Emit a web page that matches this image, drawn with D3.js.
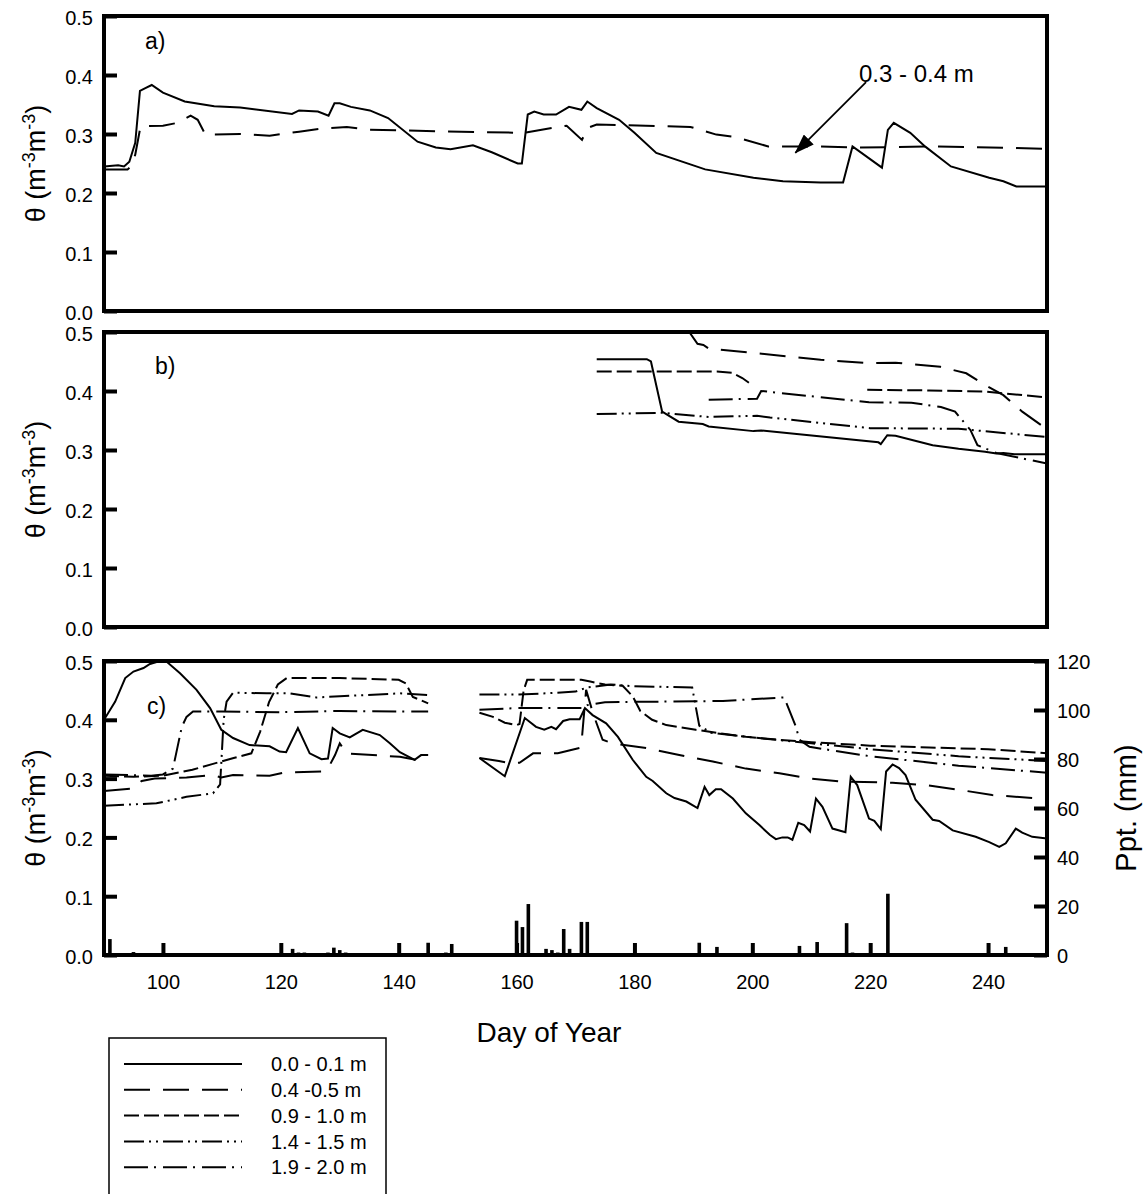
<!DOCTYPE html>
<html>
<head>
<meta charset="utf-8">
<script src="https://cdn.jsdelivr.net/npm/d3@7"></script>
<style>
body { margin: 0; background: #fff; }
text { font-family: Arial, "Liberation Sans", sans-serif; fill: #000; }
</style>
</head>
<body>
<svg id="chart" width="1146" height="1194"></svg>
<script>
// ---- data (day of year, volumetric water content) ----
// panel a
const aTop = [[90,0.245],[92.4,0.247],[93.4,0.245],[94.3,0.253],[95.3,0.285],[96.1,0.373],[97.1,0.378],[98.1,0.383],[100,0.37],[103.7,0.355],[108.7,0.347],[113.1,0.345],[121.9,0.334],[123.1,0.34],[126.3,0.338],[128.1,0.331],[129.1,0.352],[130,0.352],[131.9,0.346],[135.1,0.34],[138.2,0.327],[143.2,0.287],[146.3,0.277],[148.8,0.274],[152.6,0.281],[155.8,0.269],[160.2,0.25],[160.9,0.25],[161.9,0.333],[163,0.338],[164.6,0.333],[166.7,0.333],[168.9,0.346],[171,0.341],[172,0.355],[173.6,0.344],[177.4,0.324],[180,0.302],[183.7,0.268],[192,0.24],[200.2,0.226],[205.2,0.22],[211.6,0.218],[215.4,0.218],[217,0.279],[222,0.243],[223,0.307],[224,0.319],[226.8,0.302],[229.3,0.279],[233.7,0.245],[240.2,0.226],[242.6,0.22],[244.8,0.211],[250,0.211]];
const aMid = [[90,0.24],[94,0.24],[94.6,0.245],[95.3,0.265],[96.2,0.313],[100,0.314],[102.5,0.319],[104.7,0.331],[105.9,0.324],[107.2,0.299],[113.1,0.3],[118.1,0.297],[123.1,0.304],[126.9,0.309],[131.2,0.312],[135.1,0.307],[141.4,0.306],[153.9,0.303],[161.4,0.302],[166.5,0.311],[168.5,0.314],[171.1,0.29],[172,0.31],[173.6,0.316],[189.5,0.312],[193.9,0.299],[197,0.295],[202.7,0.279],[211.6,0.279],[218,0.277],[230.6,0.279],[250,0.275]];

// panel b
const b01 = [[173.6,0.454],[182.1,0.454],[182.8,0.45],[184.7,0.365],[187.5,0.348],[191.6,0.344],[192.6,0.34],[200.2,0.332],[201.5,0.333],[221.4,0.313],[221.8,0.31],[222.9,0.325],[224.3,0.324],[230.6,0.308],[235,0.302],[239.5,0.297],[241.4,0.294],[242.6,0.295],[244.5,0.293],[250,0.293]];
const b45 = [[189.3,0.5],[190.7,0.48],[191.7,0.478],[192.6,0.472],[200.8,0.464],[211.6,0.453],[219.8,0.447],[224.3,0.448],[231.9,0.441],[236.3,0.43],[239.5,0.41],[242.6,0.393],[245.8,0.365],[249.3,0.34]];
const b910 = [[173.6,0.433],[194,0.433],[196.5,0.431],[198.3,0.422],[199.7,0.412],null,[219.5,0.402],[230,0.401],[239.5,0.399],[250,0.389]];
const b1415 = [[173.6,0.361],[184.7,0.363],[192.6,0.356],[200.8,0.358],[203,0.355],[220,0.337],[235,0.336],[250,0.322]];
const b1920 = [[192.6,0.385],[200.8,0.387],[201.5,0.4],[219.8,0.381],[227,0.38],[232,0.373],[234.4,0.365],[237,0.334],[238.2,0.308],[241.4,0.295],[250,0.277]];

// panel c
const c01 = [[90,0.4],[91.9,0.431],[93.6,0.471],[95,0.482],[96.7,0.488],[97.8,0.495],[99.5,0.5],[100.6,0.499],[102.9,0.479],[105.7,0.451],[108,0.42],[109.9,0.383],[111.9,0.369],[114.7,0.357],[118.1,0.355],[119.8,0.346],[120.9,0.345],[122.9,0.386],[124.9,0.343],[126.9,0.333],[128,0.334],[128.8,0.386],[130,0.377],[131.7,0.37],[133.9,0.383],[136.8,0.374],[138.5,0.36],[140.2,0.345],[142.7,0.332],[143.8,0.34],[145,0.34],null,[153.7,0.335],[158,0.304],[161.4,0.403],[163.3,0.388],[164.7,0.383],[165.9,0.388],[166.7,0.384],[167.9,0.398],[169,0.401],[170.7,0.401],[171.6,0.42],[172.9,0.408],[175.2,0.394],[177.2,0.371],[179.7,0.332],[182,0.303],[183.1,0.296],[185.4,0.275],[186.8,0.267],[188.8,0.261],[190.7,0.25],[191.9,0.286],[192.7,0.272],[193.8,0.282],[194.7,0.282],[196.7,0.266],[198.9,0.241],[201.2,0.221],[203,0.204],[204,0.197],[205.1,0.2],[206,0.2],[206.8,0.196],[207.8,0.225],[208.8,0.221],[209.8,0.21],[210.8,0.266],[211.9,0.252],[213.6,0.215],[215.8,0.209],[216.7,0.303],[217.8,0.289],[219.8,0.232],[220.7,0.228],[221.8,0.214],[222.7,0.312],[223.8,0.324],[224.9,0.318],[226,0.306],[227.7,0.264],[230.6,0.23],[231.7,0.228],[234,0.212],[237.9,0.201],[240.2,0.192],[241.9,0.184],[243,0.19],[244.7,0.215],[245.8,0.208],[247.5,0.201],[250,0.198]];
const c45 = [[90,0.279],[94.7,0.283],[96.4,0.296],[98.6,0.3],[104,0.302],[108.5,0.306],[109.9,0.302],[111.9,0.306],[118.1,0.305],[120.4,0.31],[127.2,0.312],[128.3,0.323],[129.2,0.34],[130,0.36],[131.1,0.343],[140.2,0.337],[143,0.332],[145,0.337],null,[153.7,0.335],[157,0.33],[159,0.326],[160.5,0.327],[162.8,0.343],[167,0.343],[170.7,0.352],[171.1,0.37],[171.8,0.451],[173,0.41],[174.6,0.366],[176.3,0.36],[182,0.352],[187.6,0.34],[193.3,0.329],[198.9,0.317],[204.6,0.309],[209.7,0.3],[215.3,0.295],[223.8,0.293],[229.4,0.289],[235.1,0.281],[240.7,0.272],[250,0.265]];
const c910 = [[90,0.305],[95,0.303],[100,0.305],[105,0.315],[108.5,0.325],[112,0.335],[115,0.343],[116.5,0.38],[118,0.43],[119.5,0.46],[121,0.471],[130,0.471],[140,0.468],[141.2,0.462],[142.4,0.439],[145,0.428],null,[153.7,0.412],[156,0.405],[158,0.395],[160,0.391],[160.5,0.393],[161.2,0.45],[161.8,0.468],[171,0.468],[172.5,0.465],[175,0.46],[178,0.458],[179.7,0.44],[181,0.415],[183,0.4],[185.4,0.391],[190.4,0.383],[198.9,0.371],[204.6,0.366],[210,0.362],[220,0.356],[230,0.353],[240,0.35],[250,0.343]];
const c1415 = [[90,0.254],[98.9,0.258],[104,0.269],[108.5,0.275],[109.7,0.29],[110.3,0.4],[110.8,0.431],[111.9,0.446],[117.6,0.445],[121.5,0.445],[126,0.438],[130,0.44],[140.2,0.445],[145,0.442],null,[153.7,0.443],[160,0.443],[165,0.445],[170,0.448],[172,0.455],[176,0.46],[180,0.457],[189.8,0.455],[191,0.39],[193,0.378],[200,0.37],[210,0.36],[220,0.35],[235,0.338],[250,0.33]];
const c1920 = [[90,0.307],[98,0.305],[100,0.307],[101.7,0.317],[103.2,0.388],[104,0.405],[105.1,0.414],[110,0.414],[120,0.413],[130,0.415],[140,0.414],[145,0.414],null,[153.7,0.417],[160,0.42],[165,0.42],[171,0.42],[172,0.425],[175,0.43],[185,0.431],[195,0.432],[205.4,0.438],[207.4,0.388],[208,0.366],[209.7,0.354],[220,0.338],[235,0.322],[250,0.31]];

// precipitation (mm)
const pptDay = [91,95,112,122,123,124,128,129,130,131,145,148,149,150,160,161,162,165,166,167,168,169,171,172,191,194,197,204,207,208,211,216,217,223,224,243];
const pptMm  = [6.5,1.2,0.5,2.5,1,1,1,3,2,1,5,1,4.5,0.5,14,11.4,20.8,2.5,2,1,10.6,2.5,13.5,13.5,5,3.3,0.5,0.5,0.5,3.7,5.3,13,1,25,0.5,3.3];

// ticks and labels
const thetaTicks = [0, 0.1, 0.2, 0.3, 0.4, 0.5];
const dayTicks = [100, 120, 140, 160, 180, 200, 220, 240];
const pptTicks = [0, 20, 40, 60, 80, 100, 120];
const depthNames = ["0.0 - 0.1 m", "0.4 -0.5 m", "0.9 - 1.0 m", "1.4 - 1.5 m", "1.9 - 2.0 m"];

// ---- drawing ----
const svg = d3.select("#chart");
const dashes = [null, "26,13", "15,5", "20,5,2,5,2,5", "24,6,2,7"];
const FONT = "Arial, 'Liberation Sans', sans-serif";

const x = d3.scaleLinear().domain([90, 250]).range([104, 1047]);

const panels = [
  { id: "a", top: 16,  bottom: 311, label: "a)", lx: 145, ly: 49,
    series: [[aTop, 0], [aMid, 1]] },
  { id: "b", top: 332, bottom: 627, label: "b)", lx: 155, ly: 374,
    series: [[b01, 0], [b45, 1], [b910, 2], [b1415, 3], [b1920, 4]] },
  { id: "c", top: 661, bottom: 955, label: "c)", lx: 147, ly: 714,
    series: [[c01, 0], [c45, 1], [c910, 2], [c1415, 3], [c1920, 4]] }
];

const defs = svg.append("defs");
defs.append("marker")
  .attr("id", "arrow")
  .attr("markerUnits", "userSpaceOnUse")
  .attr("markerWidth", 20).attr("markerHeight", 14)
  .attr("refX", 19).attr("refY", 7)
  .attr("orient", "auto")
  .append("path").attr("d", "M0,0 L20,7 L0,14 Z").attr("fill", "#000");

panels.forEach(p => {
  let y = d3.scaleLinear().domain([0, 0.5]).range([p.bottom, p.top]);
  p.y = y;
  let g = svg.append("g");

  defs.append("clipPath").attr("id", "clip-" + p.id)
    .append("rect")
    .attr("x", x(90)).attr("y", p.top)
    .attr("width", x(250) - x(90)).attr("height", p.bottom - p.top);

  // precipitation bars + extra axes (panel c only)
  if (p.id == "c") {
    let yp = d3.scaleLinear().domain([0, 120]).range([p.bottom, p.top]);
    g.append("g").selectAll("rect")
      .data(pptDay.map((d, i) => [d, pptMm[i]]))
      .enter().append("rect")
      .attr("x", d => x(d[0]) - 1.8)
      .attr("width", 3.6)
      .attr("y", d => yp(d[1]))
      .attr("height", d => yp(0) - yp(d[1]))
      .attr("fill", "#000");

    let ra = g.append("g")
      .attr("transform", `translate(${x(250)},0)`)
      .call(d3.axisRight(yp).tickValues(pptTicks).tickSize(-13).tickPadding(10));
    ra.select(".domain").remove();
    ra.selectAll(".tick line").attr("stroke-width", 4);
    ra.selectAll("text").attr("font-size", 20).attr("font-family", FONT).attr("dy", "0.35em");

    let ba = g.append("g")
      .attr("transform", `translate(0,${p.bottom})`)
      .call(d3.axisBottom(x).tickValues(dayTicks).tickSize(-12).tickPadding(20));
    ba.select(".domain").remove();
    ba.selectAll(".tick line").attr("stroke-width", 4);
    ba.selectAll("text").attr("font-size", 20).attr("font-family", FONT);
  }

  // lines
  let line = d3.line()
    .defined(d => d != null)
    .x(d => x(d[0]))
    .y(d => y(d[1]));

  g.append("g").attr("clip-path", `url(#clip-${p.id})`)
    .selectAll("path")
    .data(p.series)
    .enter().append("path")
    .attr("d", d => line(d[0]))
    .attr("fill", "none")
    .attr("stroke", "#000")
    .attr("stroke-width", 2)
    .attr("stroke-dasharray", d => dashes[d[1]]);

  // left axis
  let la = g.append("g")
    .attr("transform", `translate(${x(90)},0)`)
    .call(d3.axisLeft(y).tickValues(thetaTicks).tickFormat(d3.format(".1f")).tickSize(-13).tickPadding(11));
  la.select(".domain").remove();
  la.selectAll(".tick line").attr("stroke-width", 4);
  la.selectAll("text").attr("font-size", 20).attr("font-family", FONT).attr("dy", "0.4em");

  // frame
  g.append("rect")
    .attr("x", x(90)).attr("y", p.top)
    .attr("width", x(250) - x(90)).attr("height", p.bottom - p.top)
    .attr("fill", "none").attr("stroke", "#000").attr("stroke-width", 4);

  // panel label
  g.append("text").attr("x", p.lx).attr("y", p.ly)
    .attr("font-size", 23).text(p.label);

  // y title
  let t = g.append("text")
    .attr("transform", `translate(45,${(p.top + p.bottom) / 2}) rotate(-90)`)
    .attr("text-anchor", "middle")
    .attr("font-size", 27);
  t.append("tspan").text("\u03b8 (m");
  t.append("tspan").attr("font-size", 18).attr("dy", -10).text("-3");
  t.append("tspan").attr("dy", 10).text("m");
  t.append("tspan").attr("font-size", 18).attr("dy", -10).text("-3");
  t.append("tspan").attr("dy", 10).text(")");
});

// annotation in panel a
const ya = panels[0].y;
svg.append("line")
  .attr("x1", x(219.3)).attr("y1", ya(0.388))
  .attr("x2", x(207.3)).attr("y2", ya(0.268))
  .attr("stroke", "#000").attr("stroke-width", 1.8)
  .attr("marker-end", "url(#arrow)");
svg.append("text")
  .attr("x", x(218.1)).attr("y", ya(0.388))
  .attr("font-size", 24)
  .text("0.3 - 0.4 m");

// axis titles
svg.append("text")
  .attr("x", 549).attr("y", 1042)
  .attr("text-anchor", "middle")
  .attr("font-size", 28)
  .text("Day of Year");

svg.append("text")
  .attr("transform", `translate(1136,${(661 + 955) / 2}) rotate(-90)`)
  .attr("text-anchor", "middle")
  .attr("font-size", 29)
  .text("Ppt. (mm)");

// legend
const lg = svg.append("g");
lg.append("path")
  .attr("d", "M109,1194 V1038 H386 V1194")
  .attr("fill", "none").attr("stroke", "#000").attr("stroke-width", 1.5);

lg.selectAll("line.key")
  .data(depthNames)
  .enter().append("line")
  .attr("class", "key")
  .attr("x1", 124).attr("x2", 242)
  .attr("y1", (d, i) => 1064 + i * 25.8)
  .attr("y2", (d, i) => 1064 + i * 25.8)
  .attr("stroke", "#000").attr("stroke-width", 2)
  .attr("stroke-dasharray", (d, i) => dashes[i]);

lg.selectAll("text")
  .data(depthNames)
  .enter().append("text")
  .attr("x", 271)
  .attr("y", (d, i) => 1064 + i * 25.8)
  .attr("dy", "0.36em")
  .attr("font-size", 20)
  .text(d => d);
</script>
</body>
</html>
